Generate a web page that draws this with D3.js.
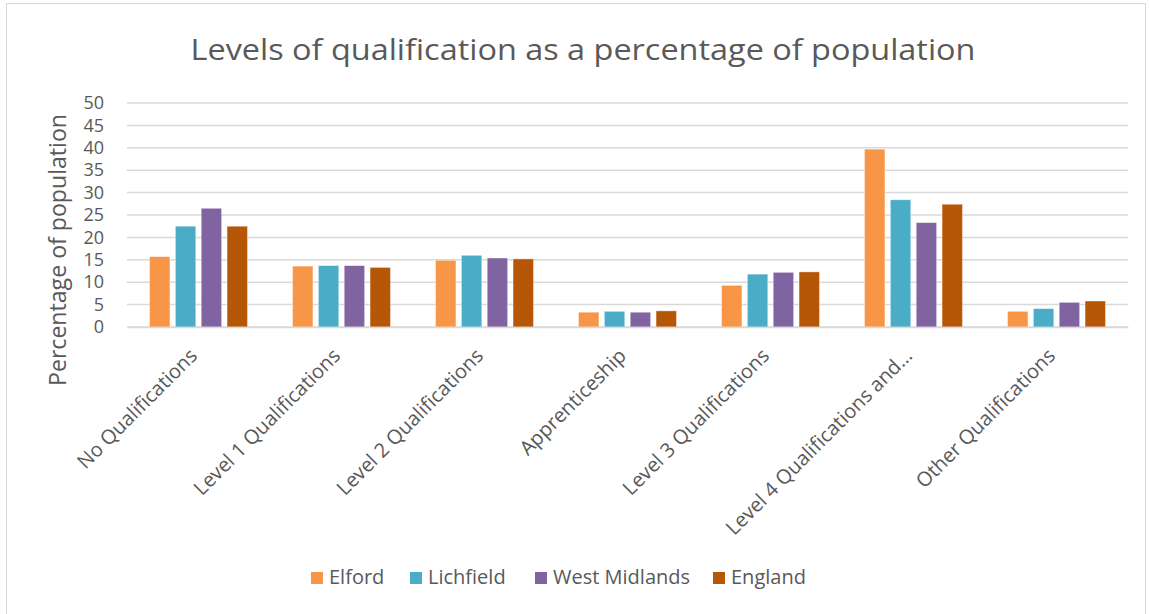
<!DOCTYPE html>
<html lang="en">
    <head>
        <meta charset="utf-8">
        <title>Levels of qualification</title>
        <script src="https://cdn.jsdelivr.net/npm/d3@7"></script>
        <style>
            body { margin: 0; background: #fff; }
            text { font-family: "Open Sans", "Noto Sans", sans-serif; fill: #595959; }
        </style>
    </head>
    <body>
        <script>
            // Data
            var categories = ["No Qualifications", "Level 1 Qualifications", "Level 2 Qualifications",
                              "Apprenticeship", "Level 3 Qualifications", "Level 4 Qualifications and\u2026",
                              "Other Qualifications"];
            var seriesNames = ["Elford", "Lichfield", "West Midlands", "England"];
            var elford       = [15.7, 13.6, 14.9, 3.3, 9.3, 39.7, 3.5];
            var lichfield    = [22.5, 13.7, 16.0, 3.5, 11.8, 28.4, 4.1];
            var westMidlands = [26.5, 13.7, 15.4, 3.3, 12.2, 23.3, 5.5];
            var england      = [22.5, 13.3, 15.2, 3.6, 12.3, 27.4, 5.8];
            var yTicks = [0, 5, 10, 15, 20, 25, 30, 35, 40, 45, 50];

            var seriesValues = [elford, lichfield, westMidlands, england];
            var colors = ["#F79646", "#4BACC6", "#8064A2", "#B65708"];

            var w = 1149, h = 614;
            var plotLeft = 127, plotRight = 1128, plotTop = 103, plotBottom = 327;

            var svg = d3.select("body").append("svg")
                .attr("width", w)
                .attr("height", h);

            // chart border
            svg.append("rect")
                .attr("x", 6.5).attr("y", 3.5)
                .attr("width", w - 10).attr("height", h + 10)
                .attr("fill", "none")
                .attr("stroke", "#d9d9d9")
                .attr("stroke-width", 1);

            // title
            svg.append("text")
                .attr("x", 583).attr("y", 60)
                .attr("text-anchor", "middle")
                .attr("font-size", 30)
                .attr("textLength", 785)
                .attr("lengthAdjust", "spacingAndGlyphs")
                .text("Levels of qualification as a percentage of population");

            // scales
            var x0 = d3.scaleBand()
                .domain(categories)
                .range([plotLeft, plotRight])
                .paddingInner(0.315)
                .paddingOuter(0.1575);
            var x1 = d3.scaleBand()
                .domain(seriesNames)
                .range([0, x0.bandwidth()])
                .paddingInner(0.21)
                .paddingOuter(0);
            var y = d3.scaleLinear()
                .domain([0, 50])
                .range([plotBottom, plotTop]);

            // gridlines
            svg.append("g").selectAll("line")
                .data(yTicks)
                .enter().append("line")
                .attr("x1", plotLeft).attr("x2", plotRight)
                .attr("y1", function(d) { return y(d); })
                .attr("y2", function(d) { return y(d); })
                .attr("stroke", "#d9d9d9")
                .attr("stroke-width", 1.5);

            // y axis labels
            var yAxis = d3.axisLeft(y).tickValues(yTicks).tickSize(0).tickPadding(0);
            var gy = svg.append("g")
                .attr("transform", "translate(104,0)")
                .call(yAxis);
            gy.select(".domain").remove();
            gy.selectAll("text")
                .attr("font-size", 18)
                .attr("font-family", null)
                .attr("fill", "#595959");

            // y axis title
            svg.append("text")
                .attr("transform", "translate(66,250) rotate(-90)")
                .attr("text-anchor", "middle")
                .attr("font-size", 23)
                .attr("textLength", 272)
                .attr("lengthAdjust", "spacingAndGlyphs")
                .text("Percentage of population");

            // bars
            var groups = svg.append("g").selectAll("g")
                .data(categories)
                .enter().append("g")
                .attr("transform", function(d) { return "translate(" + x0(d) + ",0)"; });

            groups.selectAll("rect")
                .data(function(d, i) {
                    return seriesNames.map(function(s, j) {
                        return { series: s, value: seriesValues[j][i], color: colors[j] };
                    });
                })
                .enter().append("rect")
                .attr("x", function(d) { return x1(d.series); })
                .attr("y", function(d) { return y(d.value); })
                .attr("width", x1.bandwidth())
                .attr("height", function(d) { return y(0) - y(d.value); })
                .attr("fill", function(d) { return d.color; })
                .attr("stroke", "#fff")
                .attr("stroke-opacity", 0.5)
                .attr("stroke-width", 0.75);

            // x axis
            var xAxis = d3.axisBottom(x0).tickSize(0).tickPadding(0);
            var gx = svg.append("g")
                .attr("transform", "translate(0," + plotBottom + ")")
                .call(xAxis);
            gx.select(".domain")
                .attr("stroke", "#d9d9d9")
                .attr("stroke-width", 1.5);
            gx.selectAll("text")
                .attr("font-size", 20)
                .attr("font-family", null)
                .attr("fill", "#595959")
                .attr("text-anchor", "end")
                .attr("dy", null)
                .attr("transform", "translate(0,30) rotate(-45)");

            // legend
            var legendX = [311, 410, 535, 713];
            var legend = svg.append("g").selectAll("g")
                .data(seriesNames)
                .enter().append("g")
                .attr("transform", function(d, i) { return "translate(" + legendX[i] + ",572)"; });
            legend.append("rect")
                .attr("width", 12).attr("height", 12)
                .attr("fill", function(d, i) { return colors[i]; });
            legend.append("text")
                .attr("x", 18).attr("y", 12)
                .attr("font-size", 20)
                .text(function(d) { return d; });
        </script>
    </body>
</html>
